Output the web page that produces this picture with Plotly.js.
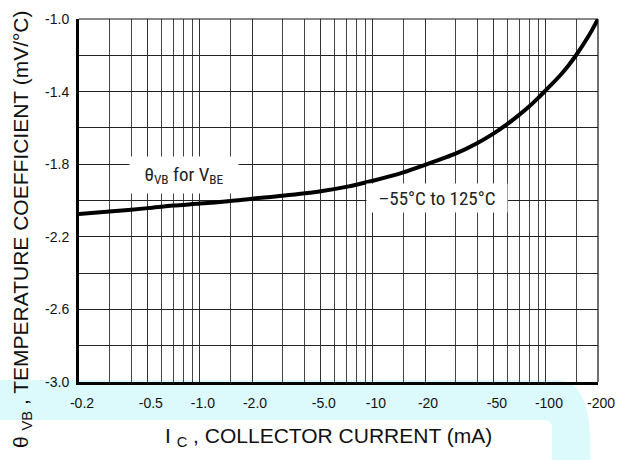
<!DOCTYPE html>
<html><head><meta charset="utf-8">
<script src="https://cdn.plot.ly/plotly-3.0.1.min.js"></script>
<style>body{margin:0;background:#fff}#chart{width:631px;height:460px}</style>
</head><body><div id="chart"></div>
<script>
// ---- data ----
const currentMA = [0.2, 0.3, 0.5, 0.7, 1, 1.5, 2, 3, 5, 7, 10, 15, 20, 30, 40, 50, 60, 70, 80, 90, 100, 120, 135, 150, 175, 185, 200];
const tempCoeff = [-2.075, -2.061, -2.042, -2.028, -2.017, -2.003, -1.990, -1.974, -1.949, -1.925, -1.891, -1.845, -1.804, -1.742, -1.684, -1.630, -1.578, -1.528, -1.482, -1.436, -1.392, -1.314, -1.256, -1.197, -1.099, -1.060, -1.0];
const xTickVals = [0.2, 0.5, 1, 2, 5, 10, 20, 50, 100, 200];
const xTickText = ["-0.2", "-0.5", "-1.0", "-2.0", "-5.0", "-10", "-20", "-50", "-100", "-200"];
const xMinorGrid = [0.3, 0.4, 0.6, 0.7, 0.8, 0.9, 1.5, 3, 4, 6, 7, 8, 9, 15, 30, 40, 60, 70, 80, 90, 150];
const yTickVals = [-3.0, -2.6, -2.2, -1.8, -1.4, -1.0];
const yTickText = ["-3.0", "-2.6", "-2.2", "-1.8", "-1.4", "-1.0"];
const yMinorGrid = [-2.8, -2.4, -2.0, -1.6, -1.2];
const labelCurve = "θ<sub>VB</sub> for V<sub>BE</sub>";
const labelRange = "–55°C to 125°C";
const yTitle = "θ <sub>VB</sub> , TEMPERATURE COEFFICIENT (mV/°C)";
const xTitle = "I <sub>C</sub> , COLLECTOR CURRENT (mA)";

// ---- layout helpers (pixel -> paper) ----
const L = 79, R = 33, T = 19, B = 78, W = 631, H = 460;
const pw = W - L - R, ph = H - T - B;
const px = x => ((x - L) / pw).toFixed(5);
const py = y => ((H - B - y) / ph).toFixed(5);
const P = (x, y) => px(x) + ',' + py(y);

const bandPath = 'M' + P(0, 380) + ' L' + P(556, 380) +
  ' C' + P(578, 380) + ' ' + P(590, 400) + ' ' + P(590, 440) +
  ' L' + P(590, 460) + ' L' + P(552, 460) + ' L' + P(552, 428) +
  ' Q' + P(552, 420) + ' ' + P(544, 420) + ' L' + P(0, 420) + ' Z';

const condensed = 'Liberation Sans Narrow, Roboto Condensed, Roboto, sans-serif';
const sans = 'Liberation Sans, Arial, Helvetica, sans-serif';

const trace = {
  x: currentMA, y: tempCoeff, type: 'scatter', mode: 'lines',
  line: {color: '#000', width: 4, shape: 'spline', smoothing: 0.8},
  hoverinfo: 'skip', showlegend: false
};

const layout = {
  width: W, height: H,
  margin: {l: L, r: R, t: T, b: B, pad: 0},
  paper_bgcolor: '#fff', plot_bgcolor: '#fff',
  font: {family: sans, color: '#111', size: 14},
  showlegend: false,
  xaxis: {
    type: 'log', range: [Math.log10(0.2), Math.log10(200)],
    tickmode: 'array', tickvals: xTickVals, ticktext: xTickText,
    ticks: '', showgrid: true, gridcolor: '#333', gridwidth: 1,
    minor: {tickmode: 'array', tickvals: xMinorGrid, showgrid: true, gridcolor: '#444', gridwidth: 1, ticks: ''},
    showline: true, linecolor: '#000', linewidth: 3, mirror: false,
    zeroline: false, tickfont: {family: sans, size: 14, color: '#111'},
    ticklabelstandoff: 6, ticklabelshift: 3, fixedrange: true
  },
  yaxis: {
    range: [-3.0, -1.0],
    tickmode: 'array', tickvals: yTickVals, ticktext: yTickText,
    ticks: '', showgrid: true, gridcolor: '#222', gridwidth: 1,
    minor: {tickmode: 'array', tickvals: yMinorGrid, showgrid: true, gridcolor: '#222', gridwidth: 1, ticks: ''},
    showline: true, linecolor: '#000', linewidth: 3, mirror: false,
    zeroline: false, tickfont: {family: sans, size: 14, color: '#111'},
    ticklabelstandoff: 4, fixedrange: true
  },
  shapes: [
    {type: 'path', xref: 'paper', yref: 'paper', path: bandPath,
     fillcolor: '#dcfafc', line: {width: 0}, layer: 'below'},
    {type: 'line', xref: 'paper', yref: 'paper', x0: 0, x1: 1, y0: 1, y1: 1,
     line: {color: '#111', width: 1.2}},
    {type: 'line', xref: 'paper', yref: 'paper', x0: 1, x1: 1, y0: 0, y1: 1,
     line: {color: '#111', width: 1.2}}
  ],
  annotations: [
    {text: labelCurve, xref: 'paper', yref: 'paper', x: +px(184), y: +py(175),
     xanchor: 'center', yanchor: 'middle', showarrow: false,
     width: 108, height: 36, bgcolor: '#fff', borderpad: 0,
     font: {family: condensed, size: 19, color: '#222'}},
    {text: labelRange, xref: 'paper', yref: 'paper', x: +px(437), y: +py(198.5),
     xanchor: 'center', yanchor: 'middle', showarrow: false,
     width: 140, height: 28, bgcolor: '#fff', borderpad: 0,
     font: {family: condensed, size: 19, color: '#222'}},
    {text: yTitle, xref: 'paper', yref: 'paper', x: +px(22), y: +py(229),
     xanchor: 'center', yanchor: 'middle', showarrow: false, textangle: -90,
     font: {family: sans, size: 21, color: '#111'}},
    {text: xTitle, xref: 'paper', yref: 'paper', x: +px(328), y: +py(437),
     xanchor: 'center', yanchor: 'middle', showarrow: false,
     font: {family: sans, size: 21, color: '#111'}}
  ]
};

Plotly.newPlot('chart', [trace], layout, {displayModeBar: false, staticPlot: true});
</script>
</body></html>
